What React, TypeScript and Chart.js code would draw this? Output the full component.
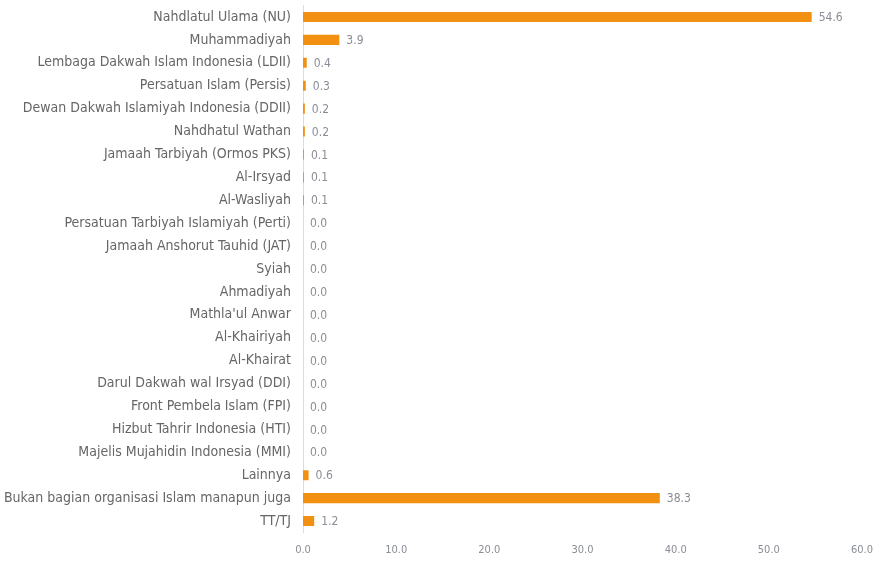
import React, { useEffect, useRef } from "react";
import { Chart, registerables } from "chart.js";

Chart.register(...registerables);

const categories: string[] = [
  "Nahdlatul Ulama (NU)",
  "Muhammadiyah",
  "Lembaga Dakwah Islam Indonesia (LDII)",
  "Persatuan Islam (Persis)",
  "Dewan Dakwah Islamiyah Indonesia (DDII)",
  "Nahdhatul Wathan",
  "Jamaah Tarbiyah (Ormos PKS)",
  "Al-Irsyad",
  "Al-Wasliyah",
  "Persatuan Tarbiyah Islamiyah (Perti)",
  "Jamaah Anshorut Tauhid (JAT)",
  "Syiah",
  "Ahmadiyah",
  "Mathla'ul Anwar",
  "Al-Khairiyah",
  "Al-Khairat",
  "Darul Dakwah wal Irsyad (DDI)",
  "Front Pembela Islam (FPI)",
  "Hizbut Tahrir Indonesia (HTI)",
  "Majelis Mujahidin Indonesia (MMI)",
  "Lainnya",
  "Bukan bagian organisasi Islam manapun juga",
  "TT/TJ",
];

const values: number[] = [
  54.6, 3.9, 0.4, 0.3, 0.2, 0.2, 0.1, 0.1, 0.1, 0.0, 0.0, 0.0, 0.0, 0.0, 0.0,
  0.0, 0.0, 0.0, 0.0, 0.0, 0.6, 38.3, 1.2,
];

const xMin = 0;
const xMax = 60;
const xStep = 10;

const FONT = "'DejaVu Sans Condensed', sans-serif";

const valueLabels = {
  id: "valueLabels",
  afterDatasetsDraw(chart: any) {
    const ctx = chart.ctx;
    const meta = chart.getDatasetMeta(0);
    ctx.save();
    ctx.font = `12px ${FONT}`;
    ctx.fillStyle = "#8a8d96";
    ctx.textAlign = "left";
    ctx.textBaseline = "middle";
    meta.data.forEach((bar: any, i: number) => {
      const v = values[i];
      ctx.fillText(v.toFixed(1), bar.x + 7, bar.y + 1);
    });
    ctx.restore();
  },
};

export default function App() {
  const ref = useRef<HTMLCanvasElement | null>(null);
  useEffect(() => {
    if (!ref.current) return;
    const chart = new Chart(ref.current, {
      type: "bar",
      data: {
        labels: categories,
        datasets: [
          {
            data: values,
            backgroundColor: "#f29111",
            borderWidth: 0,
            barPercentage: 0.44,
            categoryPercentage: 1,
          },
        ],
      },
      options: {
        indexAxis: "y",
        animation: false,
        responsive: true,
        maintainAspectRatio: false,
        layout: { padding: { top: 5.5, right: 16, bottom: 0, left: 0 } },
        plugins: {
          legend: { display: false },
          tooltip: { enabled: false },
        },
        scales: {
          x: {
            min: xMin,
            max: xMax,
            grid: { display: false, drawTicks: false },
            border: { display: false },
            ticks: {
              stepSize: xStep,
              padding: 11,
              color: "#8a8d96",
              font: { family: FONT, size: 11 },
              callback: (v: any) => Number(v).toFixed(1),
            },
            afterFit: (s: any) => {
              s.height = 32.5;
              s.paddingLeft = 0;
              s.paddingRight = 0;
            },
          },
          y: {
            grid: { display: false, drawTicks: false },
            border: { display: true, color: "#dcdcdc", width: 1 },
            ticks: {
              padding: 12,
              color: "#666666",
              autoSkip: false,
              font: { family: FONT, size: 14 },
            },
            afterFit: (s: any) => {
              s.width = 303;
              s.paddingTop = 0;
              s.paddingBottom = 0;
            },
          },
        },
      },
      plugins: [valueLabels],
    });
    return () => chart.destroy();
  }, []);
  return (
    <div style={{ position: "absolute", left: 0, top: 0, width: 878, height: 565, background: "#fff" }}>
      <canvas ref={ref} />
    </div>
  );
}
